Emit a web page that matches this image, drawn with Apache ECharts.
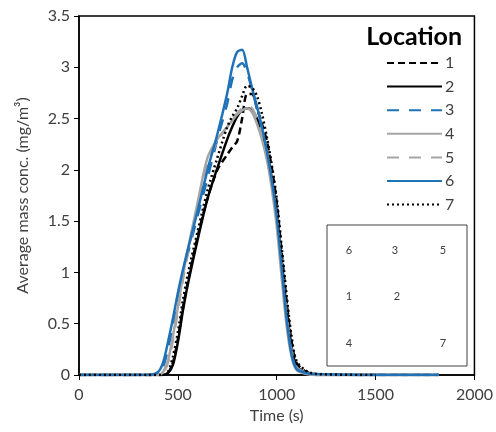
<!DOCTYPE html>
<html>
<head>
<meta charset="utf-8">
<script src="https://cdn.jsdelivr.net/npm/echarts@6/dist/echarts.min.js"></script>
<style>
  body { margin: 0; background: #fff; }
</style>
</head>
<body>
<div id="chart" style="width: 496px; height: 432px;"></div>
<script>
// time points (s)
var times = [0, 350, 400, 425, 450, 475, 500, 525, 550, 600, 650, 700, 750, 775, 800, 825, 850, 875, 900, 925, 950, 975, 1000, 1025, 1050, 1075, 1100, 1150, 1200, 1500, 1820];

// average mass concentration (mg/m3) for each location
var loc1 = [0, 0, 0, 0, 0.02, 0.12, 0.35, 0.65, 0.9, 1.35, 1.72, 2.0, 2.15, 2.22, 2.28, 2.5, 2.74, 2.74, 2.6, 2.45, 2.28, 2.02, 1.68, 1.2, 0.72, 0.33, 0.12, 0.03, 0.01, 0, 0];
var loc2 = [0, 0, 0, 0, 0.02, 0.1, 0.32, 0.62, 0.88, 1.32, 1.72, 2.02, 2.3, 2.42, 2.52, 2.58, 2.6, 2.58, 2.5, 2.36, 2.18, 1.92, 1.6, 1.12, 0.65, 0.28, 0.09, 0.02, 0, 0, 0];
var loc3 = [0, 0, 0.02, 0.08, 0.25, 0.48, 0.72, 0.98, 1.18, 1.55, 1.92, 2.3, 2.65, 2.88, 3.0, 3.04, 2.95, 2.78, 2.6, 2.4, 2.18, 1.9, 1.55, 1.05, 0.58, 0.22, 0.07, 0.02, 0, 0, 0];
var loc4 = [0, 0, 0, 0.03, 0.14, 0.38, 0.66, 0.96, 1.22, 1.68, 2.12, 2.3, 2.42, 2.48, 2.54, 2.58, 2.6, 2.56, 2.45, 2.3, 2.1, 1.82, 1.45, 0.95, 0.48, 0.18, 0.05, 0.01, 0, 0, 0];
var loc5 = [0, 0, 0, 0.02, 0.12, 0.34, 0.62, 0.92, 1.18, 1.62, 2.05, 2.28, 2.42, 2.5, 2.55, 2.6, 2.62, 2.6, 2.5, 2.36, 2.18, 1.9, 1.55, 1.08, 0.6, 0.25, 0.08, 0.02, 0, 0, 0];
var loc6 = [0, 0, 0.03, 0.12, 0.32, 0.55, 0.8, 1.02, 1.22, 1.6, 2.0, 2.35, 2.75, 3.0, 3.15, 3.17, 3.0, 2.8, 2.62, 2.42, 2.18, 1.9, 1.55, 1.05, 0.55, 0.2, 0.06, 0.02, 0.01, 0, 0];
var loc7 = [0, 0, 0, 0, 0.03, 0.18, 0.42, 0.72, 0.98, 1.4, 1.8, 2.12, 2.42, 2.52, 2.6, 2.72, 2.82, 2.8, 2.72, 2.55, 2.32, 2.05, 1.72, 1.25, 0.78, 0.38, 0.14, 0.04, 0.01, 0, null];

var names = ['1', '2', '3', '4', '5', '6', '7'];
var allData = [loc1, loc2, loc3, loc4, loc5, loc6, loc7];

var blue = '#1f72b8';
var grey = '#a5a5a5';
var styles = [
  { color: '#000', type: [7, 4] },
  { color: '#000', type: 'solid' },
  { color: blue, type: [12, 10] },
  { color: grey, type: 'solid' },
  { color: grey, type: [12, 10] },
  { color: blue, type: 'solid' },
  { color: '#000', type: [2, 3] }
];

function pairs(vals) {
  var out = [];
  for (var i = 0; i < times.length; i++) {
    if (vals[i] !== null) out.push([times[i], vals[i]]);
  }
  return out;
}

var series = names.map(function (n, i) {
  return {
    name: n,
    type: 'line',
    symbol: 'none',
    smooth: 0.3,
    data: pairs(allData[i]),
    color: styles[i].color,
    lineStyle: { color: styles[i].color, width: 2.5, type: styles[i].type }
  };
});

var font = 'Lato, "Open Sans", sans-serif';
var small = function (t, x, y) {
  return {
    type: 'text', x: x, y: y,
    style: { text: t, font: '11px ' + font, fill: '#404040', align: 'center', verticalAlign: 'middle' }
  };
};

var myChart = echarts.init(document.getElementById('chart'));
var option = {
  animation: false,
  grid: {
    left: 79, right: 19, top: 16, bottom: 57,
    show: true, borderColor: '#000', borderWidth: 1.5
  },
  legend: {
    orient: 'vertical',
    left: 381,
    top: 50,
    itemWidth: 55,
    itemHeight: 14,
    itemGap: 7.6,
    itemStyle: { opacity: 0 },
    textStyle: { fontSize: 16, color: '#404040', fontFamily: font, padding: [0, 0, 0, -2] },
    data: names
  },
  xAxis: {
    type: 'value',
    min: 0, max: 2000, interval: 500,
    name: 'Time (s)',
    nameLocation: 'middle',
    nameGap: 19,
    nameTextStyle: { fontSize: 16, color: '#404040', fontFamily: font },
    axisLine: { lineStyle: { color: '#000', width: 1.5 } },
    axisTick: { show: true, length: 5, lineStyle: { color: '#000' } },
    axisLabel: { fontSize: 16, color: '#404040', fontFamily: font, margin: 12, formatter: function (v) { return String(v); } },
    splitLine: { show: false }
  },
  yAxis: {
    type: 'value',
    min: 0, max: 3.5, interval: 0.5,
    name: 'Average mass conc. (mg/m³)',
    nameLocation: 'middle',
    nameGap: 48,
    nameTextStyle: { fontSize: 16, color: '#404040', fontFamily: font },
    axisLine: { show: true, lineStyle: { color: '#000', width: 1.5 } },
    axisTick: { show: true, length: 5, lineStyle: { color: '#000' } },
    axisLabel: { fontSize: 16, color: '#404040', fontFamily: font, margin: 9 },
    splitLine: { show: false }
  },
  graphic: [
    {
      type: 'text', right: 34, top: 24,
      style: { text: 'Location', font: 'bold 25px ' + font, fill: '#000' }
    },
    {
      type: 'rect', shape: { x: 327, y: 225, width: 140, height: 141 },
      style: { fill: '#fff', stroke: '#404040', lineWidth: 1 }
    },
    small('6', 349, 250), small('3', 395, 250), small('5', 443, 250),
    small('1', 349, 296), small('2', 397, 296),
    small('4', 349, 343), small('7', 443, 343)
  ],
  series: series
};
myChart.setOption(option);
</script>
</body>
</html>
